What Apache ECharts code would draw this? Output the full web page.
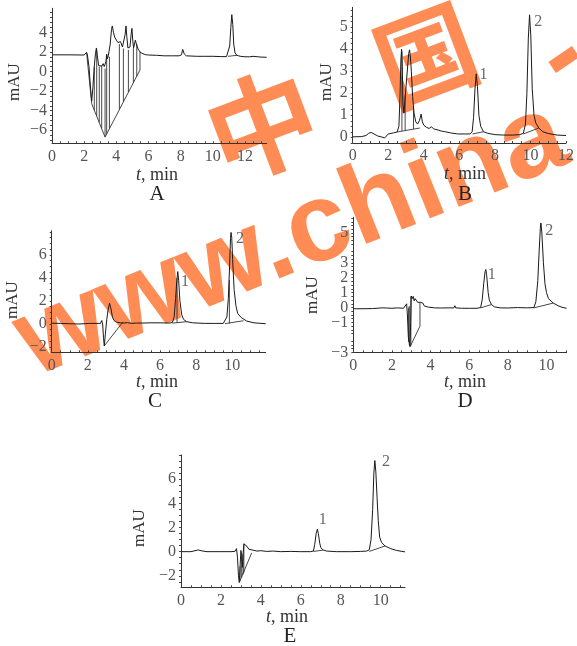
<!DOCTYPE html>
<html><head><meta charset="utf-8">
<script src="https://cdn.jsdelivr.net/npm/echarts@6/dist/echarts.min.js"></script>
<style>html,body{margin:0;padding:0;background:#fff}#c{width:577px;height:646px}</style>
</head><body><div id="c"></div>
<script>
// ---------- DATA ----------
const aSignal = [[0,1.7],[1.0,1.7],[2.0,1.68],[2.1,1.75],[2.15,1.95],[2.2,1.7],[2.3,0.5],[2.4,-1.8],[2.47,-3.0],[2.55,-1.5],[2.63,0.5],[2.7,1.8],[2.76,2.4],[2.82,1.6],[2.9,0.6],[2.95,0.5],[3.02,0.7],[3.1,0.55],[3.18,0.8],[3.25,0.5],[3.3,0.3],[3.35,1.0],[3.4,1.75],[3.45,1.3],[3.5,1.6],[3.56,1.4],[3.62,2.8],[3.7,4.3],[3.75,4.65],[3.82,4.0],[3.9,3.5],[4.0,3.2],[4.1,2.95],[4.2,2.8],[4.26,3.05],[4.3,3.0],[4.38,2.5],[4.44,2.35],[4.5,2.6],[4.55,3.8],[4.6,4.65],[4.65,3.6],[4.72,2.4],[4.78,2.2],[4.85,2.5],[4.92,3.8],[4.97,4.4],[5.02,3.2],[5.07,2.4],[5.12,2.7],[5.18,3.2],[5.25,2.8],[5.35,2.3],[5.47,2.0],[5.6,1.85],[5.8,1.72],[6.0,1.68],[6.5,1.65],[7.0,1.6],[7.5,1.6],[7.9,1.6],[8.05,1.7],[8.13,2.25],[8.22,1.8],[8.35,1.6],[9.0,1.55],[9.5,1.55],[10.0,1.55],[10.5,1.52],[10.85,1.52],[10.95,1.6],[11.05,2.6],[11.12,4.5],[11.18,5.8],[11.24,4.8],[11.3,2.8],[11.38,1.9],[11.5,1.65],[11.7,1.55],[12.0,1.5],[12.3,1.5],[12.5,1.55],[12.6,1.5],[12.8,1.5],[12.9,1.53],[13.0,1.47],[13.35,1.45]];
const aPaths = [[[2.15,1.95],[2.47,-3.3],[3.3,-6.7],[5.47,0.15],[5.47,2.0]],[[10.95,1.55],[11.5,1.65]]];
const aDrops = [[2.63,0.5,-3.95],[2.78,2.2,-4.55],[2.94,0.5,-5.2],[3.09,0.6,-5.8],[3.3,0.3,-6.65],[3.4,1.75,-6.35],[3.57,1.5,-5.8],[4.19,2.8,-3.85],[4.44,2.35,-3.1],[4.75,2.2,-2.1],[5.06,2.4,-1.15],[5.27,2.8,-0.5]];
const aXTicks = [0,2,4,6,8,10,12];
const aYTicks = [-6,-4,-2,0,2,4];

const bSignal = [[0,0.02],[0.5,0.03],[0.75,0.08],[0.9,0.18],[1.04,0.22],[1.2,0.15],[1.4,0.06],[1.6,0.02],[1.8,-0.03],[1.9,-0.02],[2.0,0.15],[2.05,0.18],[2.3,0.2],[2.5,0.24],[2.6,0.5],[2.66,1.8],[2.71,3.5],[2.75,4.0],[2.79,3.2],[2.83,1.5],[2.88,1.1],[2.93,1.6],[3.0,2.3],[3.08,3.1],[3.15,3.8],[3.2,3.97],[3.25,3.6],[3.3,3.0],[3.37,1.85],[3.45,1.1],[3.55,0.7],[3.65,0.6],[3.75,0.75],[3.85,1.05],[3.92,0.7],[4.0,0.55],[4.15,0.45],[4.3,0.4],[4.43,0.48],[4.55,0.38],[4.8,0.33],[5.0,0.28],[5.15,0.26],[5.22,0.35],[5.26,0.25],[5.5,0.2],[5.9,0.15],[6.3,0.15],[6.6,0.15],[6.72,0.25],[6.8,0.9],[6.88,2.2],[6.95,2.88],[7.02,2.3],[7.1,1.0],[7.2,0.5],[7.36,0.25],[7.6,0.18],[8.0,0.12],[8.5,0.1],[9.0,0.1],[9.4,0.12],[9.6,0.18],[9.72,0.6],[9.8,2.0],[9.88,4.5],[9.95,5.56],[10.02,4.6],[10.1,2.2],[10.2,1.0],[10.3,0.65],[10.47,0.42],[10.7,0.25],[11.0,0.17],[11.5,0.1],[12.0,0.08]];
const bPaths = [[[2.5,0.24],[3.78,0.42]],[[6.74,0.15],[7.36,0.25]],[[9.6,0.15],[10.47,0.42]]];
const bDrops = [[2.77,3.9,0.29],[2.95,1.9,0.32],[3.42,1.4,0.38]];
const bXTicks = [0,2,4,6,8,10,12];
const bYTicks = [0,1,2,3,4,5];
const bPeakPos = [[7.36,2.83],[10.44,5.25]];

const cSignal = [[0,0.07],[0.5,0.05],[1.0,0.02],[1.5,0.0],[1.9,0.03],[2.0,0.1],[2.1,0.05],[2.5,0.05],[2.7,0.05],[2.77,0.3],[2.82,0.0],[2.87,-1.2],[2.91,-1.9],[2.97,-0.9],[3.05,0.4],[3.12,1.2],[3.2,1.8],[3.25,1.8],[3.3,1.2],[3.36,0.6],[3.45,0.3],[3.6,0.15],[3.8,0.1],[4.0,0.08],[4.2,0.12],[4.4,0.05],[4.5,0.12],[4.7,0.08],[5.0,0.08],[5.5,0.1],[6.0,0.1],[6.5,0.08],[6.68,0.12],[6.78,0.6],[6.86,2.2],[6.93,3.8],[6.98,4.55],[7.03,3.8],[7.1,2.0],[7.2,0.8],[7.3,0.4],[7.47,0.2],[7.8,0.1],[8.5,0.05],[9.0,0.05],[9.5,0.05],[9.6,0.1],[9.7,0.6],[9.78,2.2],[9.85,5.0],[9.9,7.4],[9.93,7.95],[9.97,7.5],[10.02,5.6],[10.1,3.0],[10.2,1.6],[10.3,0.9],[10.5,0.55],[10.8,0.25],[11.2,0.1],[11.85,0.02]];
const cPaths = [[[2.91,-1.9],[3.95,0.18]],[[6.68,0.07],[7.47,0.2]],[[9.6,0.03],[10.62,0.28]]];
const cDrops = [[6.94,4.0,0.09],[9.84,3.8,0.04]];
const cXTicks = [0,2,4,6,8,10];
const cYTicks = [-2,0,2,4,6];
const cPeakPos = [[7.38,3.68],[10.43,7.37]];

const dSignal = [[0,-0.08],[0.5,-0.08],[1.0,-0.07],[1.5,-0.02],[1.55,0.04],[1.7,-0.03],[2.0,-0.05],[2.3,-0.02],[2.6,-0.05],[2.7,-0.02],[2.76,0.25],[2.8,-0.5],[2.85,-2.0],[2.93,-2.6],[2.97,-1.0],[3.0,0.77],[3.05,0.6],[3.1,0.75],[3.15,0.45],[3.2,0.6],[3.25,0.7],[3.33,0.35],[3.4,0.3],[3.47,0.35],[3.54,0.45],[3.6,0.3],[3.68,0.1],[3.88,0.03],[4.2,-0.02],[4.5,-0.03],[5.0,-0.02],[5.2,-0.03],[5.26,0.12],[5.3,-0.02],[5.6,-0.05],[6.0,-0.05],[6.4,-0.05],[6.59,0.0],[6.67,0.5],[6.75,1.6],[6.82,2.4],[6.86,2.55],[6.9,2.2],[6.98,1.0],[7.04,0.5],[7.15,0.2],[7.3,0.05],[7.6,-0.02],[8.0,-0.03],[8.5,0.0],[9.0,-0.02],[9.35,0.0],[9.45,0.4],[9.55,1.8],[9.62,3.8],[9.68,5.3],[9.71,5.67],[9.76,5.0],[9.84,3.0],[9.92,1.6],[10.0,1.0],[10.1,0.6],[10.35,0.3],[10.6,0.12],[10.8,0.02],[11.04,-0.05]];
const dPaths = [[[2.93,-2.65],[3.45,-1.25],[3.45,0.35]],[[6.59,-0.02],[7.15,0.2]],[[9.35,-0.02],[10.35,0.3]]];
const dDrops = [[2.86,0.0,-2.3],[2.9,0.1,-2.5],[2.98,0.75,-2.55]];
const dXTicks = [0,2,4,6,8,10];
const dYTicks = [-3,-2,-1,0,1,2,3,4,5];
const dPeakPos = [[7.16,2.22],[10.14,5.17]];

const eSignal = [[0,0.0],[0.5,0.0],[0.7,0.08],[0.87,0.14],[1.05,0.06],[1.3,0.0],[2.0,0.0],[2.5,0.0],[2.7,0.02],[2.78,0.25],[2.83,-0.5],[2.88,-2.0],[2.92,-2.55],[2.96,-1.2],[3.0,0.1],[3.04,-0.3],[3.07,-1.3],[3.11,-0.2],[3.15,0.65],[3.22,0.62],[3.3,0.45],[3.4,0.2],[3.5,0.1],[3.8,0.05],[4.0,0.08],[4.3,0.02],[4.6,0.05],[5.0,0.0],[5.5,0.02],[6.0,0.0],[6.5,0.0],[6.63,0.05],[6.7,0.6],[6.77,1.5],[6.83,1.85],[6.88,1.5],[6.95,0.7],[7.0,0.35],[7.1,0.15],[7.3,0.05],[7.8,0.0],[8.5,0.0],[9.0,0.02],[9.3,0.05],[9.43,0.15],[9.52,1.0],[9.6,3.5],[9.66,6.5],[9.71,7.54],[9.76,6.6],[9.82,4.5],[9.88,2.6],[9.95,1.2],[10.05,0.75],[10.22,0.47],[10.5,0.25],[10.8,0.1],[11.22,-0.02]];
const ePaths = [[[2.92,-2.55],[3.54,-0.1]],[[6.63,0.02],[7.1,0.12]],[[9.43,0.02],[10.22,0.47]]];
const eDrops = [[2.96,-1.2,-2.4],[3.04,-0.3,-2.15],[3.11,-0.2,-1.9],[3.15,0.65,-1.75]];
const eXTicks = [0,2,4,6,8,10];
const eYTicks = [-2,0,2,4,6];
const ePeakPos = [[7.1,2.63],[10.27,7.46]];

const peakNames = ['1','2'];
const panelLetters = ['A','B','C','D','E'];
const yName = 'mAU';
const watermarkChars = ['中','国'];
const watermarkText = 'www.china';
const watermarkTail = '-';

// ---------- LAYOUT ----------
const SERIF = '"Liberation Serif","Times New Roman",serif';
const panels = [
  {g:{left:52,top:8.3,width:214.7,height:135}, x:[0,13.35], y:[-7.33,6.45], xt:aXTicks, yt:aYTicks, xm:0.5, ym:0.5, sig:aSignal, paths:aPaths, drops:aDrops, peaks:[], mau:[15,82], tm:[157,175], let:[157,194]},
  {g:{left:352.7,top:7.3,width:218.3,height:135.7}, x:[0,12], y:[-0.26,5.9], xt:bXTicks, yt:bYTicks, xm:0.5, ym:0.25, sig:bSignal, paths:bPaths, drops:bDrops, peaks:bPeakPos, mau:[327,82], tm:[465,174], let:[465,194]},
  {g:{left:51.7,top:230.7,width:214,height:121.6}, x:[0,11.85], y:[-2.46,8.1], xt:cXTicks, yt:cYTicks, xm:0.5, ym:0.5, sig:cSignal, paths:cPaths, drops:cDrops, peaks:cPeakPos, mau:[13,300], tm:[157,382], let:[155,401]},
  {g:{left:353.3,top:217.3,width:213.3,height:135}, x:[0,11.04], y:[-3,6.05], xt:dXTicks, yt:dYTicks, xm:0.5, ym:0.25, sig:dSignal, paths:dPaths, drops:dDrops, peaks:dPeakPos, mau:[313,295], tm:[465,382], let:[465,401]},
  {g:{left:181,top:455,width:224,height:132.3}, x:[0,11.22], y:[-2.95,8.0], xt:eXTicks, yt:eYTicks, xm:0.5, ym:0.5, sig:eSignal, paths:ePaths, drops:eDrops, peaks:ePeakPos, mau:[140,528], tm:[287,617], let:[290,636]}
];

function steps(lo, hi, st){ const out=[]; for(let v=Math.ceil(lo/st)*st; v<=hi+1e-9; v+=st) out.push(+v.toFixed(4)); return out; }
const fmt = v => v < 0 ? '\u2212' + Math.abs(v) : String(v);

const grid=[], xAxis=[], yAxis=[], series=[], graphic=[];

// watermark, drawn beneath the chart marks
const WM = '#FF8C55';
graphic.push({type:'text', x:262, y:125, rotation:0.36, z:-5,
  style:{text:watermarkChars[0], fill:WM, font:'bold 110px "Noto Sans CJK SC"', textAlign:'center', textVerticalAlign:'middle'}});
graphic.push({type:'text', x:426, y:55, rotation:0.36, z:-5,
  style:{text:watermarkChars[1], fill:WM, font:'bold 100px "Noto Sans CJK SC"', textAlign:'center', textVerticalAlign:'middle'}});
graphic.push({type:'text', x:22, y:348, rotation:0.38, z:-5,
  style:{text:watermarkText, fill:WM, font:'bold 112px "Liberation Sans"', textAlign:'left', textVerticalAlign:'middle'}});
graphic.push({type:'text', x:563, y:58, rotation:0.6, z:-5,
  style:{text:watermarkTail, fill:WM, font:'bold 112px "Liberation Sans"', textAlign:'center', textVerticalAlign:'middle'}});

panels.forEach((p,i)=>{
  grid.push(Object.assign({containLabel:false}, p.g));
  const common = {type:'value', gridIndex:i, z:5, splitLine:{show:false},
    axisLine:{show:true,onZero:false,lineStyle:{color:'#333',width:1}},
    axisLabel:{color:'#555',fontFamily:SERIF,fontSize:16,formatter:fmt, showMinLabel:true, showMaxLabel:true}};
  xAxis.push(Object.assign({}, common, {min:p.x[0],max:p.x[1],
    axisTick:{show:true,inside:true,length:2,customValues:steps(p.x[0],p.x[1],p.xm),lineStyle:{color:'#444'}},
    axisLabel:Object.assign({}, common.axisLabel, {customValues:p.xt, margin:5})}));
  yAxis.push(Object.assign({}, common, {min:p.y[0],max:p.y[1],
    axisTick:{show:true,inside:false,length:2,customValues:steps(p.y[0],p.y[1],p.ym),lineStyle:{color:'#444'}},
    axisLabel:Object.assign({}, common.axisLabel, {customValues:p.yt, margin:5})}));
  series.push({type:'line', xAxisIndex:i, yAxisIndex:i, data:p.sig, showSymbol:false, symbol:'none',
    lineStyle:{color:'#1a1a1a',width:1}, z:3, silent:true});
  const segs = p.paths.map(c=>({coords:c})).concat(p.drops.map(d=>({coords:[[d[0],d[1]],[d[0],d[2]]]})));
  series.push({type:'lines', coordinateSystem:'cartesian2d', xAxisIndex:i, yAxisIndex:i, polyline:true,
    data:segs, lineStyle:{color:'#333',width:0.9,opacity:1}, z:2, silent:true});
  if (p.peaks.length) {
    series.push({type:'scatter', xAxisIndex:i, yAxisIndex:i, symbolSize:0,
      data:p.peaks.map((c,k)=>({value:c, name:peakNames[k]})),
      label:{show:true, position:'inside', formatter:'{b}', color:'#444', fontFamily:SERIF, fontSize:16}, z:4, silent:true});
  }
  graphic.push({type:'text', x:p.mau[0], y:p.mau[1], rotation:Math.PI/2, z:6,
    style:{text:yName, fill:'#333', font:'17px '+SERIF, textAlign:'center', textVerticalAlign:'middle'}});
  graphic.push({type:'text', x:p.tm[0], y:p.tm[1], z:6,
    style:{text:'{i|t}{n|, min}', textAlign:'center', textVerticalAlign:'middle',
      rich:{i:{fontFamily:SERIF,fontStyle:'italic',fontSize:18,fill:'#333'}, n:{fontFamily:SERIF,fontSize:18,fill:'#333'}}}});
  graphic.push({type:'text', x:p.let[0], y:p.let[1], z:6,
    style:{text:panelLetters[i], fill:'#222', font:'21px '+SERIF, textAlign:'center', textVerticalAlign:'middle'}});
});

const chart = echarts.init(document.getElementById('c'), null, {renderer:'canvas'});
chart.setOption({animation:false, backgroundColor:'#fff', grid, xAxis, yAxis, series, graphic});
</script></body></html>
